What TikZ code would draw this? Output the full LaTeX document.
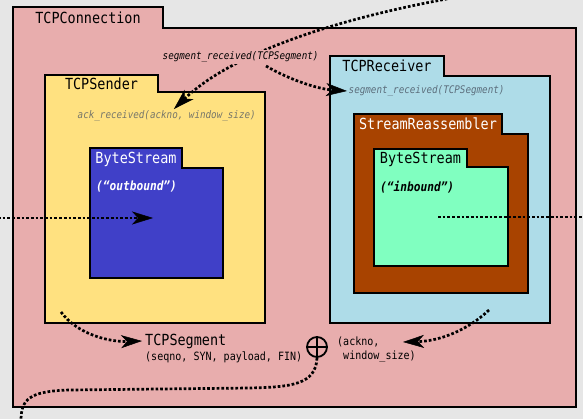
\documentclass[tikz,border=0pt]{standalone}
\usepackage{fontspec}
\newfontfamily\codefont{DejaVu Sans Mono}[FakeStretch=0.88,
  BoldFont=DejaVu Sans Mono Bold, ItalicFont=DejaVu Sans Mono Oblique,
  BoldItalicFont=DejaVu Sans Mono Bold Oblique]
\usetikzlibrary{arrows.meta}
\definecolor{bggray}{HTML}{E6E6E6}
\definecolor{connpink}{HTML}{E8ADAD}
\definecolor{sendyellow}{HTML}{FFE180}
\definecolor{outblue}{HTML}{4040C8}
\definecolor{recvblue}{HTML}{AEDCE8}
\definecolor{reasmbrown}{HTML}{A84300}
\definecolor{inmint}{HTML}{80FFC0}
\definecolor{callgray}{HTML}{77776A}
\definecolor{recvgray}{HTML}{5C6E7C}
\tikzset{
	folder/.style = {draw = black, line width = 2pt},
	foldername/.style = {font = {\codefont\fontsize{15.3}{18}\selectfont}, inner sep = 0pt},
	call/.style = {font = {\codefont\itshape\fontsize{10.5}{12}\selectfont}, anchor = west, inner sep = 1.5pt},
	streamtag/.style = {font = {\codefont\bfseries\itshape\fontsize{12.7}{15}\selectfont}, anchor = west, inner sep = 0pt},
	fields/.style = {font = {\codefont\fontsize{11.4}{14}\selectfont}, anchor = west, inner sep = 0pt, align = left},
	combiner/.style = {draw, circle, line width = 1.8pt, minimum size = 20pt, inner sep = 0pt},
	flow/.style = {line width = 2.7pt, dash pattern = on 2.7pt off 2pt},
	flowarrow/.style = {flow, -{Stealth[length = 21pt, width = 13pt, inset = 6pt, line width = 0.5pt]}}
}
\begin{document}
\begin{tikzpicture}[x = 1pt, y = -1pt]
		\fill[bggray] (0, 0) rectangle (583, 419);
		\useasboundingbox (0, 0) rectangle (583, 419);
		% folders, outer ones first
		\foreach \id/\xa/\ya/\xb/\yb/\xc/\yc/\col/\txtcol/\ttext in {
			conn/13/7/163/28/576/407/connpink/black/TCPConnection,
			sender/45/75/158/92/265/323/sendyellow/black/TCPSender,
			outstream/90/148/182/168/223/278/outblue/white/ByteStream,
			receiver/330/56/444/76/550/323/recvblue/black/TCPReceiver,
			reasm/354/114/502/134/528/293/reasmbrown/white/StreamReassembler,
			instream/374/149/467/167/508/266/inmint/black/ByteStream}{
			\draw[folder, fill = \col] (\xa, \yc) -- (\xa, \ya) -- (\xb, \ya) -- (\xb, \yb) -- (\xc, \yb) -- (\xc, \yc) -- cycle;
			\node[foldername, text = \txtcol, anchor = base] (\id) at ({(\xa + \xb) / 2}, {(\ya + \yb) / 2 + 6}) {\ttext};}
		\node[call, text = callgray] (ackrecv) at (76, 116) {ack\_received(ackno, window\_size)};
		\node[call, text = recvgray] (recvseg) at (347, 91) {segment\_received(TCPSegment)};
		\node[streamtag, text = white] (outtag) at (96, 187) {(“outbound”)};
		\node[streamtag] (intag) at (380, 187) {(“inbound”)};
		\node[foldername, anchor = west, inner sep = 3pt] (tcpseg) at (142, 341) {TCPSegment};
		\node[fields] (segfields) at (145, 357) {(seqno, SYN, payload, FIN)};
		\node[combiner] (combine) at (317, 347) {};
		\draw[line width = 1.8pt] (combine.north) -- (combine.south) (combine.west) -- (combine.east);
		\node[fields] (ackfields) at (337, 350) {(ackno,\\\phantom{(}window\_size)};
		\coordinate (topin) at (452, -2);
		\coordinate (fork) at (266, 66);
		\coordinate (leftin) at (-2, 218);
		\coordinate (outmid) at (153, 218);
		\coordinate (inmid) at (438, 217);
		\coordinate (rightout) at (585, 217);
		\coordinate (sendout) at (61, 312);
		\coordinate (recvout) at (489, 310);
		\coordinate (ackin) at (403, 342);
		\coordinate (bottomout) at (21, 421);
		% data flow
		\draw[flowarrow] (topin) .. controls (330, 20) and (230, 55) .. (ackrecv);
		\node[call, fill = connpink] (segrecv) at (161, 57) {segment\_received(TCPSegment)};
		\draw[flowarrow] (fork) .. controls (290, 80) and (318, 89) .. (recvseg.west);
		\draw[flowarrow] (leftin) -- (outmid);
		\draw[flow] (inmid) -- (rightout);
		\draw[flowarrow] (sendout) .. controls (78, 335) and (110, 342) .. (tcpseg.west);
		\draw[flowarrow] (recvout) .. controls (468, 330) and (440, 341) .. (ackin);
		\draw[flow] (combine.south) .. controls (316, 385) and (290, 387) .. (250, 388) -- (70, 390) .. controls (28, 391) and (21, 400) .. (bottomout);
\end{tikzpicture}
\end{document}
